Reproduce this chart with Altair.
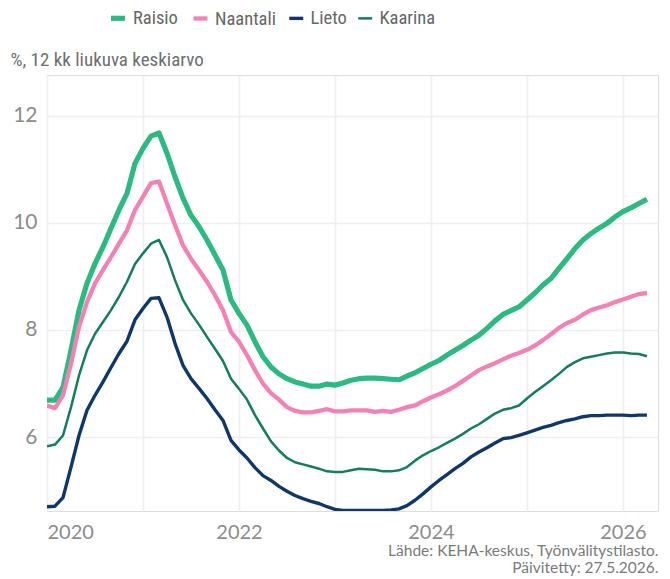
import altair as alt
import pandas as pd

series_names = ["Raisio", "Naantali", "Lieto", "Kaarina"]
series_colors = ["#2db982", "#f282b4", "#0f3769", "#147d5a"]
series_widths = [5.2, 2.5, 2.5, 2.5]

months = [f"{2020 + i // 12}-{i % 12 + 1:02d}" for i in range(76)]

raisio = [6.69, 6.69, 6.93, 7.62, 8.37, 8.87, 9.24, 9.55, 9.90, 10.24,
          10.55, 11.11, 11.39, 11.62, 11.68, 11.30, 10.86, 10.46, 10.14, 9.93,
          9.68, 9.40, 9.12, 8.56, 8.31, 8.09, 7.78, 7.50, 7.31, 7.18,
          7.09, 7.03, 6.99, 6.95, 6.95, 6.99, 6.97, 7.01, 7.06, 7.09,
          7.10, 7.10, 7.09, 7.08, 7.07, 7.14, 7.20, 7.28, 7.36, 7.43,
          7.53, 7.62, 7.71, 7.81, 7.90, 8.03, 8.17, 8.29, 8.36, 8.43,
          8.56, 8.69, 8.84, 8.96, 9.15, 9.33, 9.52, 9.68, 9.80, 9.90,
          9.99, 10.11, 10.21, 10.28, 10.36, 10.44]

naantali = [6.59, 6.54, 6.78, 7.37, 8.06, 8.52, 8.87, 9.12, 9.36, 9.61,
            9.86, 10.24, 10.49, 10.74, 10.77, 10.36, 9.96, 9.58, 9.33, 9.12,
            8.90, 8.65, 8.37, 7.96, 7.78, 7.53, 7.25, 7.00, 6.82, 6.70,
            6.56, 6.49, 6.46, 6.46, 6.49, 6.52, 6.48, 6.48, 6.50, 6.50,
            6.50, 6.47, 6.49, 6.47, 6.51, 6.56, 6.59, 6.67, 6.74, 6.80,
            6.87, 6.95, 7.05, 7.15, 7.25, 7.32, 7.38, 7.45, 7.52, 7.57,
            7.63, 7.71, 7.81, 7.92, 8.04, 8.13, 8.19, 8.29, 8.37, 8.42,
            8.46, 8.52, 8.57, 8.62, 8.67, 8.69]

lieto = [4.70, 4.71, 4.87, 5.44, 6.03, 6.50, 6.78, 7.03, 7.30, 7.56,
         7.79, 8.19, 8.40, 8.59, 8.60, 8.24, 7.75, 7.34, 7.09, 6.91,
         6.72, 6.51, 6.31, 5.94, 5.76, 5.61, 5.43, 5.28, 5.19, 5.08,
         4.99, 4.91, 4.85, 4.80, 4.76, 4.70, 4.65, 4.63, 4.63, 4.63,
         4.63, 4.63, 4.63, 4.64, 4.66, 4.72, 4.82, 4.94, 5.07, 5.19,
         5.30, 5.41, 5.51, 5.63, 5.72, 5.80, 5.89, 5.97, 5.99, 6.03,
         6.08, 6.13, 6.18, 6.22, 6.27, 6.31, 6.34, 6.38, 6.40, 6.40,
         6.41, 6.41, 6.41, 6.40, 6.41, 6.41]

kaarina = [5.83, 5.86, 6.03, 6.56, 7.15, 7.62, 7.93, 8.15, 8.37, 8.62,
           8.90, 9.23, 9.43, 9.61, 9.68, 9.36, 8.93, 8.56, 8.31, 8.10,
           7.87, 7.65, 7.42, 7.09, 6.90, 6.70, 6.41, 6.16, 5.92, 5.75,
           5.61, 5.53, 5.49, 5.45, 5.41, 5.36, 5.35, 5.35, 5.38, 5.41,
           5.40, 5.39, 5.36, 5.36, 5.38, 5.44, 5.56, 5.66, 5.74, 5.81,
           5.89, 5.97, 6.06, 6.16, 6.24, 6.34, 6.44, 6.51, 6.54, 6.59,
           6.72, 6.84, 6.95, 7.06, 7.18, 7.31, 7.40, 7.47, 7.50, 7.53,
           7.56, 7.58, 7.58, 7.56, 7.55, 7.51]

year_ticks = [2020, 2021, 2022, 2023, 2024, 2025, 2026]
y_ticks = [6, 8, 10, 12]
subtitle = "%, 12 kk liukuva keskiarvo"
caption = ["Lähde: KEHA-keskus, Työnvälitystilasto.", "Päivitetty: 27.5.2026."]

rows = []
for order, (name, vals) in enumerate(zip(series_names, [raisio, naantali, lieto, kaarina])):
    for mo, v in zip(months, vals):
        yy, mm = mo.split("-")
        rows.append({"kunta": name, "aika": int(yy) + (int(mm) - 1) / 12.0,
                     "arvo": v, "jarjestys": order})
df = pd.DataFrame(rows)

narrow = "Liberation Sans Narrow, Roboto Condensed, Arial Narrow, Roboto"
labelfont = "Lato, Roboto, sans-serif"

chart = alt.Chart(df).mark_line(strokeJoin="round", clip=True).encode(
    x=alt.X("aika:Q",
            scale=alt.Scale(domain=[2020, 2026.365], nice=False, zero=False),
            axis=alt.Axis(values=year_ticks,
                          labelExpr="datum.value % 2 == 0 ? format(datum.value, 'd') : ''",
                          title=caption, titleAnchor="end", titleAlign="right",
                          titleBaseline="alphabetic", titleFont=labelfont,
                          titleFontSize=15.5, titleFontWeight="normal",
                          titleColor="#7a7a7a", titleLineHeight=17,
                          titleX=611, titleY=44,
                          labelFont=labelfont, labelFontSize=20, labelColor="#8c8c8c",
                          labelPadding=11, ticks=False, domain=False,
                          grid=True, gridColor="#efefef", gridWidth=1.6)),
    y=alt.Y("arvo:Q",
            scale=alt.Scale(domain=[4.62, 12.76], nice=False, zero=False),
            axis=alt.Axis(values=y_ticks, title=subtitle, titleAngle=0,
                          titleAlign="left", titleBaseline="alphabetic",
                          titleX=-37, titleY=-10, titleFont=narrow,
                          titleFontSize=19, titleFontWeight="normal",
                          titleColor="#6e6e6e",
                          labelFont=labelfont,
                          labelFontSize=21, labelColor="#8c8c8c", labelPadding=10,
                          ticks=False, domain=False, grid=True,
                          gridColor="#efefef", gridWidth=1.6)),
    color=alt.Color("kunta:N",
                    scale=alt.Scale(domain=series_names, range=series_colors),
                    legend=alt.Legend(title=None, orient="none", direction="horizontal",
                                      legendX=61, legendY=-67,
                                      symbolType="stroke", symbolStrokeWidth=5,
                                      symbolSize=196, labelFont=narrow,
                                      labelFontSize=18.5, labelColor="#666666",
                                      labelOffset=5, columnPadding=6, padding=0)),
    strokeWidth=alt.StrokeWidth("kunta:N",
                                scale=alt.Scale(domain=series_names, range=series_widths),
                                legend=None),
    detail="kunta:N",
    order=alt.Order("jarjestys:Q"),
).properties(
    width=611, height=436,
    autosize=alt.AutoSizeParams(type="none"),
    padding={"left": 39, "top": 67, "right": 4, "bottom": 67},
).configure_view(stroke=None).configure(background="white")

chart.save("out.html", embed_options={"renderer": "svg", "actions": False})
